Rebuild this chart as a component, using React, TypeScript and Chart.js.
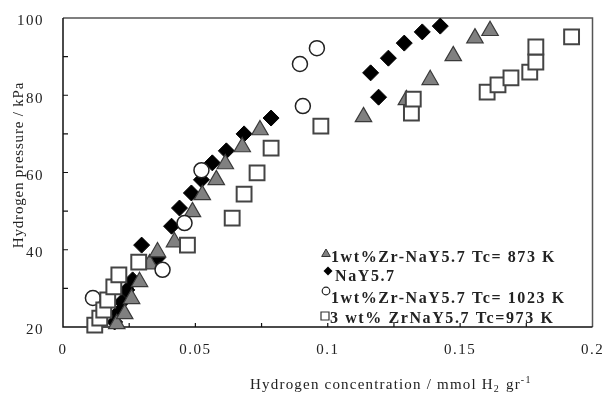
import React, { useEffect, useRef } from 'react';
import { Chart, registerables } from 'chart.js';

Chart.register(...registerables);

// ---- data ----
const triX = [0.0203, 0.0233, 0.0259, 0.0289, 0.0327, 0.0357, 0.0421, 0.0489, 0.0526, 0.0579, 0.0613, 0.0677, 0.0744, 0.1135, 0.1297, 0.1387, 0.1474, 0.1556, 0.1613];
const triY = [20.8, 23.4, 27.3, 31.7, 36.3, 39.4, 42.0, 49.8, 54.2, 58.1, 62.2, 66.6, 71.0, 74.4, 78.8, 84.0, 90.2, 94.8, 96.7];

const naX = [0.0195, 0.0207, 0.0222, 0.0241, 0.0263, 0.0297, 0.0357, 0.041, 0.044, 0.0485, 0.0523, 0.0564, 0.0617, 0.0684, 0.0786, 0.1192, 0.1162, 0.1229, 0.1289, 0.1357, 0.1425];
const naY = [21.3, 23.6, 26.5, 29.6, 32.2, 41.2, 37.9, 46.1, 50.8, 54.7, 58.1, 62.5, 65.6, 70.0, 74.1, 79.5, 85.8, 89.6, 93.5, 96.4, 97.9];

const cirX = [0.0113, 0.0376, 0.0459, 0.0523, 0.0906, 0.0895, 0.0959];
const cirY = [27.5, 34.8, 46.9, 60.6, 77.2, 88.1, 92.2];

const sqX = [0.012, 0.0139, 0.0154, 0.0169, 0.0192, 0.0211, 0.0286, 0.047, 0.0639, 0.0684, 0.0733, 0.0786, 0.0974, 0.1316, 0.1323, 0.1602, 0.1643, 0.1692, 0.1763, 0.1786, 0.1786, 0.1921];
const sqY = [20.5, 22.3, 24.4, 27.0, 30.4, 33.5, 36.8, 41.2, 48.2, 54.4, 59.9, 66.3, 72.0, 75.4, 79.0, 80.8, 82.7, 84.5, 86.0, 88.6, 92.5, 95.1];

const seriesNames = [
  '1wt%Zr-NaY5.7 Tc= 873 K',
  'NaY5.7',
  '1wt%Zr-NaY5.7 Tc= 1023 K',
  '3 wt% ZrNaY5.7 Tc=973 K',
];

const xTickValues = [0, 0.05, 0.1, 0.15, 0.2];
const xTickLabels = ['0', '0.05', '0.1', '0.15', '0.2'];
const yTickValues = [20, 40, 60, 80, 100];
const yTickLabels = ['20', '40', '60', '80', '100'];
const xMarkValues = [0.025, 0.05, 0.075, 0.1, 0.125, 0.15, 0.175];
const yMarkValues = [30, 40, 50, 60, 70, 80, 90];

const xTitle = 'Hydrogen concentration / mmol H';
const yTitle = 'Hydrogen pressure / kPa';

const zip = (xs: number[], ys: number[]) => xs.map((x, i) => ({ x, y: ys[i] }));

const SERIF = "'Liberation Serif', 'Times New Roman', serif";

const decorPlugin = {
  id: 'decor',
  beforeDraw(chart: any) {
    chart.ctx.letterSpacing = '1.5px';
  },
  beforeDatasetsDraw(chart: any) {
    const { ctx, chartArea: a, scales } = chart;
    ctx.save();
    // frame
    ctx.strokeStyle = '#555';
    ctx.lineWidth = 1.5;
    ctx.beginPath();
    ctx.moveTo(a.left, a.top);
    ctx.lineTo(a.right, a.top);
    ctx.lineTo(a.right, a.bottom);
    ctx.stroke();
    ctx.strokeStyle = '#111';
    ctx.beginPath();
    ctx.moveTo(a.left, a.top);
    ctx.lineTo(a.left, a.bottom);
    ctx.lineTo(a.right, a.bottom);
    ctx.stroke();
    // inward tick marks
    ctx.lineWidth = 1.2;
    ctx.beginPath();
    xMarkValues.forEach((v) => {
      const px = scales.x.getPixelForValue(v);
      ctx.moveTo(px, a.bottom);
      ctx.lineTo(px, a.bottom - 4);
    });
    yMarkValues.forEach((v) => {
      const py = scales.y.getPixelForValue(v);
      ctx.moveTo(a.left, py);
      ctx.lineTo(a.left + 5, py);
    });
    ctx.stroke();
    ctx.restore();
  },
  afterDraw(chart: any) {
    const { ctx } = chart;
    ctx.save();
    ctx.fillStyle = '#222';
    // y title
    ctx.font = `15px ${SERIF}`;
    ctx.letterSpacing = '0.8px';
    ctx.save();
    ctx.translate(23, 165);
    ctx.rotate(-Math.PI / 2);
    ctx.textAlign = 'center';
    ctx.textBaseline = 'alphabetic';
    ctx.fillText(yTitle, 0, 0);
    ctx.restore();
    // x title with sub/superscript
    ctx.textAlign = 'left';
    ctx.textBaseline = 'alphabetic';
    ctx.font = `15px ${SERIF}`;
    ctx.letterSpacing = '1.2px';
    let x = 250;
    const base = 389;
    ctx.fillText(xTitle, x, base);
    x += ctx.measureText(xTitle).width;
    ctx.font = `10px ${SERIF}`;
    ctx.fillText('2', x, base + 3);
    x += ctx.measureText('2').width + 1;
    ctx.font = `15px ${SERIF}`;
    ctx.fillText(' gr', x, base);
    x += ctx.measureText(' gr').width;
    ctx.font = `10px ${SERIF}`;
    ctx.fillText('-1', x, base - 6);

    // legend
    ctx.letterSpacing = '1.6px';
    ctx.font = `bold 16px ${SERIF}`;
    // triangle
    const tcx = 326, tcy = 254, tr = 5;
    ctx.beginPath();
    ctx.moveTo(tcx, tcy - tr);
    ctx.lineTo(tcx + tr * Math.sin((2 * Math.PI) / 3), tcy - tr * Math.cos((2 * Math.PI) / 3));
    ctx.lineTo(tcx + tr * Math.sin((4 * Math.PI) / 3), tcy - tr * Math.cos((4 * Math.PI) / 3));
    ctx.closePath();
    ctx.fillStyle = '#808080';
    ctx.fill();
    ctx.strokeStyle = '#333';
    ctx.lineWidth = 1;
    ctx.stroke();
    // diamond
    const dcx = 328, dcy = 271, dr = 4.5;
    ctx.beginPath();
    ctx.moveTo(dcx, dcy - dr);
    ctx.lineTo(dcx + dr, dcy);
    ctx.lineTo(dcx, dcy + dr);
    ctx.lineTo(dcx - dr, dcy);
    ctx.closePath();
    ctx.fillStyle = '#000';
    ctx.fill();
    // circle
    ctx.beginPath();
    ctx.arc(326, 291, 3.8, 0, Math.PI * 2);
    ctx.fillStyle = '#fff';
    ctx.fill();
    ctx.strokeStyle = '#222';
    ctx.lineWidth = 1.2;
    ctx.stroke();
    // square
    ctx.beginPath();
    ctx.rect(321, 312, 8, 8);
    ctx.fillStyle = '#fff';
    ctx.fill();
    ctx.strokeStyle = '#333';
    ctx.lineWidth = 1.2;
    ctx.stroke();

    ctx.fillStyle = '#222';
    ctx.fillText(seriesNames[0], 331, 262);
    ctx.fillText(seriesNames[1], 335, 281);
    ctx.fillText(seriesNames[2], 331, 303);
    ctx.fillText(seriesNames[3], 330, 323);
    ctx.restore();
  },
};

export default function App() {
  const ref = useRef<HTMLCanvasElement | null>(null);

  useEffect(() => {
    if (!ref.current) return;
    const chart = new Chart(ref.current, {
      type: 'scatter',
      data: {
        datasets: [
          {
            label: seriesNames[3],
            data: zip(sqX, sqY),
            pointStyle: 'rect',
            pointRadius: 10.5,
            pointBackgroundColor: '#fff',
            pointBorderColor: '#444',
            pointBorderWidth: 2,
            order: 0,
            clip: false,
          },
          {
            label: seriesNames[2],
            data: zip(cirX, cirY),
            pointStyle: 'circle',
            pointRadius: 7.5,
            pointBackgroundColor: '#fff',
            pointBorderColor: '#222',
            pointBorderWidth: 1.5,
            order: 1,
            clip: false,
          },
          {
            label: seriesNames[0],
            data: zip(triX, triY),
            pointStyle: 'triangle',
            pointRadius: 9.5,
            pointBackgroundColor: '#808080',
            pointBorderColor: '#3a3a3a',
            pointBorderWidth: 1.2,
            order: 2,
            clip: false,
          },
          {
            label: seriesNames[1],
            data: zip(naX, naY),
            pointStyle: 'rectRot',
            pointRadius: 8,
            pointBackgroundColor: '#000',
            pointBorderColor: '#000',
            pointBorderWidth: 1,
            order: 3,
            clip: false,
          },
        ] as any,
      },
      options: {
        animation: false,
        responsive: true,
        maintainAspectRatio: false,
        layout: { padding: { top: 18, right: 10, bottom: 0, left: 0 } },
        plugins: {
          legend: { display: false },
          tooltip: { enabled: false },
        },
        scales: {
          x: {
            type: 'linear',
            min: 0,
            max: 0.2,
            grid: { display: false, drawTicks: false },
            border: { display: false },
            afterBuildTicks: (scale: any) => {
              scale.ticks = xTickValues.map((v) => ({ value: v }));
            },
            afterFit: (scale: any) => {
              scale.height = 67;
              scale.paddingLeft = 0;
              scale.paddingRight = 0;
            },
            ticks: {
              padding: 14,
              color: '#222',
              maxRotation: 0,
              font: { family: SERIF, size: 15 },
              callback: (_v: any, i: number) => xTickLabels[i],
            },
          },
          y: {
            type: 'linear',
            min: 20,
            max: 100,
            grid: { display: false, drawTicks: false },
            border: { display: false },
            afterBuildTicks: (scale: any) => {
              scale.ticks = yTickValues.map((v) => ({ value: v }));
            },
            afterFit: (scale: any) => {
              scale.width = 63;
              scale.paddingTop = 0;
              scale.paddingBottom = 0;
            },
            ticks: {
              padding: 19,
              labelOffset: 3.5,
              color: '#222',
              font: { family: SERIF, size: 15 },
              callback: (_v: any, i: number) => yTickLabels[i],
            },
          },
        },
      } as any,
      plugins: [decorPlugin],
    });
    return () => chart.destroy();
  }, []);

  return (
    <div style={{ position: 'fixed', left: 0, top: 0, width: 605, height: 394, background: '#fff' }}>
      <canvas ref={ref} />
    </div>
  );
}
